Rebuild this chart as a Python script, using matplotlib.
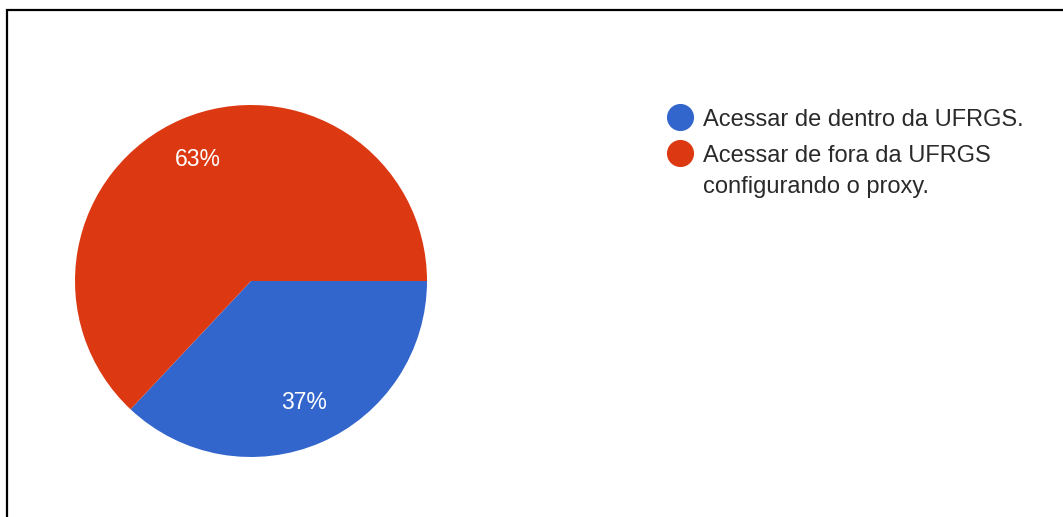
import matplotlib.pyplot as plt
from matplotlib.patches import Rectangle

labels = ["Acessar de dentro da UFRGS.", "Acessar de fora da UFRGS\nconfigurando o proxy."]
values = [37, 63]
colors = ["#3366CC", "#DC3912"]

plt.rcParams['font.family'] = ['Liberation Sans', 'DejaVu Sans']

W, H = 1063, 517
fig = plt.figure(figsize=(W / 100, H / 100), dpi=100)

# pie centre (251, 281) px, radius 176 px
r = 176
ax = fig.add_axes([(251 - r) / W, (H - 281 - r) / H, 2 * r / W, 2 * r / H])
ax.pie(values, colors=colors, startangle=0, counterclock=False,
       autopct='%d%%', pctdistance=0.755,
       textprops={'color': 'white', 'fontsize': 16.5},
       wedgeprops={'linewidth': 0})
ax.set_xlim(-1, 1)
ax.set_ylim(-1, 1)
ax.set_aspect('equal')
ax.axis('off')

# legend, drawn in pixel coordinates so the circle sits on the first line
lax = fig.add_axes([0, 0, 1, 1], zorder=-1)
lax.set_xlim(0, W)
lax.set_ylim(H, 0)
lax.axis('off')
y = 117
for lab, c in zip(labels, colors):
    lax.plot(680, y, 'o', ms=18.5, color=c, mec=c)
    for k, ln in enumerate(lab.split("\n")):
        lax.text(703, y + 8.5 + 32 * k, ln, fontsize=17, color='#2a2a2a',
                 va='baseline', ha='left')
    y += 36

# frame of the screenshot
fig.patches.append(Rectangle((6.5 / W, -0.1), 1.2, (H - 10) / H + 0.1,
                             transform=fig.transFigure, fill=False,
                             lw=1.6, ec='black'))

fig.savefig("out.png", dpi=100)
